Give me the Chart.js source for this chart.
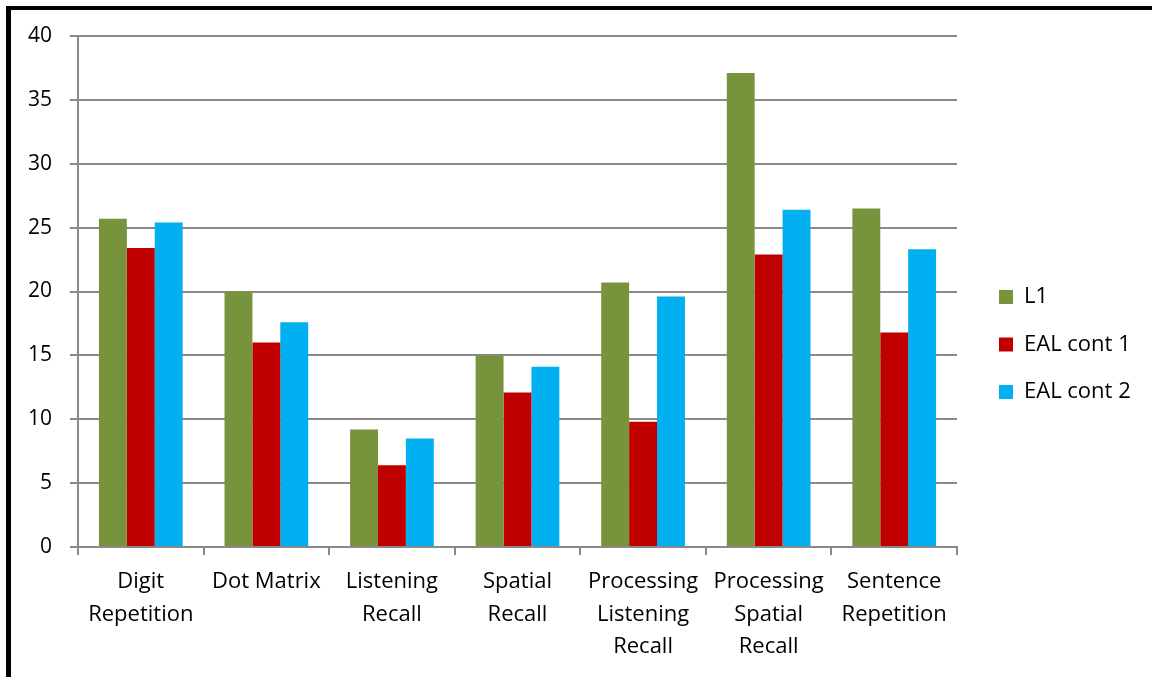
<!DOCTYPE html>
<html>
<head>
<meta charset="utf-8">
<script src="https://cdn.jsdelivr.net/npm/chart.js@4/dist/chart.umd.min.js"></script>
<style>
  html, body { margin: 0; padding: 0; background: #fff; }
  #wrap { position: relative; width: 1152px; height: 677px; overflow: hidden; }
  #chart { position: absolute; left: 0; top: 0; }
  #frame {
    position: absolute; left: 6px; top: 6px; width: 1200px; height: 667px;
    border-left: 5px solid #000; border-top: 4px solid #000; border-bottom: 2px solid #000;
    pointer-events: none;
  }
</style>
</head>
<body>
<div id="wrap">
  <canvas id="chart" width="1152" height="677"></canvas>
  <div id="frame"></div>
</div>
<script>
// Memory task scores by group
const categories = [
  ['Digit', 'Repetition'],
  'Dot Matrix',
  ['Listening', 'Recall'],
  ['Spatial', 'Recall'],
  ['Processing', 'Listening', 'Recall'],
  ['Processing', 'Spatial', 'Recall'],
  ['Sentence', 'Repetition']
];
const seriesNames = ['L1', 'EAL cont 1', 'EAL cont 2'];
const l1Scores   = [25.7, 20.0, 9.2, 15.0, 20.7, 37.1, 26.5];
const eal1Scores = [23.4, 16.0, 6.4, 12.1, 9.8, 22.9, 16.8];
const eal2Scores = [25.4, 17.6, 8.5, 14.1, 19.6, 26.4, 23.3];
const yTicks = [0, 5, 10, 15, 20, 25, 30, 35, 40];

const colors = ['#77933C', '#C00000', '#00B0F0'];
const FONT = '"Open Sans", Lato, sans-serif';
const gridColor = '#8a8a8a';

// Legend geometry: entries start at x=999, plot area ends at x=957
const legendFontSize = 22;
const legendPad = 25.5;
const boxW = 14;
const mctx = document.createElement('canvas').getContext('2d');
mctx.font = legendFontSize + 'px ' + FONT;
const maxText = Math.max(...seriesNames.map(n => mctx.measureText(n).width));
const plotTop = 36;
const plotRight = 957;
const legendStartX = 999;
const legendFirstRowY = 297;
const spacerWidth = legendStartX - legendPad - plotRight;
const legendWidth = legendPad + boxW + legendFontSize / 2 + maxText + 10;
const padRight = Math.max(0, 1152 - (legendStartX - legendPad) - legendWidth);
const legendOffset = legendFirstRowY - plotTop - legendPad - legendFontSize / 2;

new Chart(document.getElementById('chart'), {
  type: 'bar',
  data: {
    labels: categories,
    datasets: [
      { label: seriesNames[0], data: l1Scores, backgroundColor: colors[0] },
      { label: seriesNames[1], data: eal1Scores, backgroundColor: colors[1] },
      { label: seriesNames[2], data: eal2Scores, backgroundColor: colors[2] }
    ]
  },
  options: {
    responsive: false,
    animation: false,
    devicePixelRatio: 1,
    layout: { padding: { top: plotTop, left: 0, right: padRight, bottom: 0 } },
    datasets: { bar: { categoryPercentage: 3 / 4.5, barPercentage: 1, borderWidth: 0 } },
    plugins: {
      tooltip: { enabled: false },
      legend: {
        position: 'right',
        align: 'start',
        title: {
          display: true,
          text: '',
          font: { size: 1, lineHeight: 1 },
          padding: { top: legendOffset - 1, bottom: 0 }
        },
        labels: {
          boxWidth: boxW,
          boxHeight: boxW,
          padding: legendPad,
          color: '#000',
          font: { family: FONT, size: legendFontSize }
        }
      }
    },
    scales: {
      x: {
        offset: true,
        grid: { display: true, drawOnChartArea: false, drawTicks: true, tickLength: 8, offset: true, color: gridColor, lineWidth: 2 },
        border: { display: true, color: gridColor, width: 2 },
        ticks: {
          color: '#000', padding: 11, maxRotation: 0, autoSkip: false,
          font: { family: FONT, size: 22, lineHeight: 1.47 }
        },
        afterFit(s) { s.height = 130; }
      },
      y: {
        min: 0, max: 40,
        afterBuildTicks(s) { s.ticks = yTicks.map(v => ({ value: v })); },
        grid: { color: gridColor, lineWidth: 2, tickLength: 8, drawTicks: true },
        border: { display: true, color: gridColor, width: 2 },
        ticks: { color: '#000', padding: 18, font: { family: FONT, size: 21 } },
        afterFit(s) { s.width = 78; }
      },
      spacer: {
        type: 'linear',
        position: 'right',
        display: true,
        grid: { display: false, drawTicks: false },
        border: { display: false },
        ticks: { display: false },
        afterFit(s) { s.width = spacerWidth; }
      }
    }
  }
});
</script>
</body>
</html>
